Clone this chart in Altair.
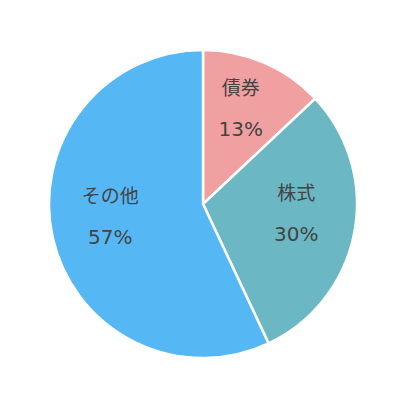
import altair as alt
import pandas as pd

categories = ["債券", "株式", "その他"]
values = [13, 30, 57]
colors = ["#f0a0a0", "#6bb7c3", "#55b8f5"]

df = pd.DataFrame({
    "cat": categories,
    "val": values,
    "order": list(range(len(categories))),
    "pct": [f"{v}%" for v in values],
})

base = alt.Chart(df).encode(
    theta=alt.Theta("val:Q", stack=True),
    order=alt.Order("order:Q"),
)

arc = base.mark_arc(outerRadius=154, stroke="white", strokeWidth=2.5).encode(
    color=alt.Color("cat:N", scale=alt.Scale(domain=categories, range=colors), legend=None)
)

name = base.mark_text(radius=95, dy=-28, fontSize=19, font="Noto Sans CJK JP", color="#444444").encode(
    text="cat:N"
)
pct = base.mark_text(radius=95, dy=13, fontSize=20, font="DejaVu Sans", color="#444444").encode(
    text="pct:N"
)

chart = (arc + name + pct).properties(width=390, height=392, padding=0).configure_view(stroke=None)
chart.save("out.html", embed_options={"renderer": "svg", "actions": False})
